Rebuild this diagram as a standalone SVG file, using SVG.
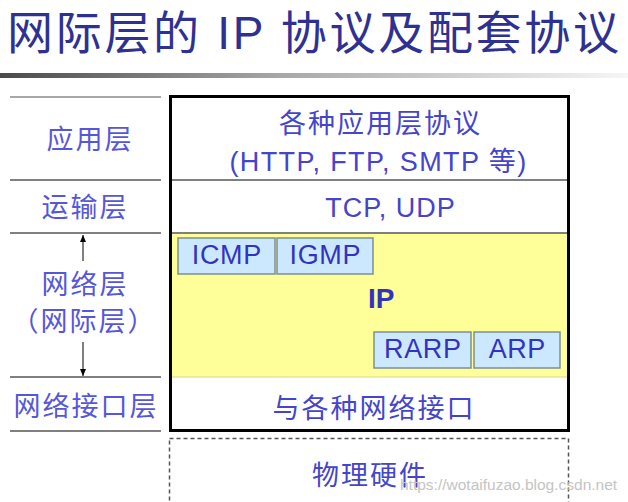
<svg xmlns="http://www.w3.org/2000/svg" width="628" height="502" viewBox="0 0 628 502">
<defs>
<linearGradient id="bar" x1="0" y1="0" x2="1" y2="0">
<stop offset="0" stop-color="#4a4a4a"/>
<stop offset="0.45" stop-color="#a8a8a8"/>
<stop offset="1" stop-color="#f6f6f6"/>
</linearGradient>
<marker id="ah" markerWidth="8" markerHeight="8" refX="7" refY="3" orient="auto" markerUnits="userSpaceOnUse">
<path d="M0,0 L7,3 L0,6 z" fill="#000"/>
</marker>
</defs>
<style>
.cjk{font-family:"Noto Sans CJK SC","Liberation Sans",sans-serif}
.lat{font-family:"Liberation Sans","Noto Sans CJK SC",sans-serif}
.lbl{fill:#5656da;font-size:27px;letter-spacing:2px;text-anchor:middle}
.main{fill:#4444cc;font-size:27px;text-anchor:middle}
.sep{stroke:#808080;stroke-width:2}
.proto rect{fill:#cce8ff;stroke:#7f8f8f;stroke-width:1.5}
.proto text{fill:#3333c0;font-size:27px;text-anchor:middle;letter-spacing:0.6px}
</style>
<rect width="628" height="502" fill="#fff"/>

<g id="title">
<text class="lat" x="7" y="49" font-size="46" fill="#2e3192" textLength="612" lengthAdjust="spacing">网际层的 IP 协议及配套协议</text>
<rect x="0" y="73" width="628" height="5" fill="url(#bar)"/>
</g>

<g id="left-column">
<line x1="10" y1="97" x2="161" y2="97" stroke="#a8a8a8" stroke-width="2"/>
<line class="sep" x1="10" y1="180" x2="161" y2="180"/>
<line class="sep" x1="10" y1="233" x2="161" y2="233"/>
<line class="sep" x1="10" y1="377" x2="161" y2="377"/>
<line class="sep" x1="10" y1="431" x2="161" y2="431"/>
</g>
<g id="label-app"><text class="cjk lbl" x="90" y="149">应用层</text></g>
<g id="label-transport"><text class="cjk lbl" x="85" y="217">运输层</text></g>
<g id="label-network">
<text class="cjk lbl" x="85" y="294">网络层</text>
<text class="cjk lbl" x="84" y="331">（网际层）</text>
</g>
<g id="label-link"><text class="cjk lbl" x="86" y="416">网络接口层</text></g>

<g id="connectors">
<line x1="83" y1="261" x2="83" y2="235" stroke="#000" stroke-width="1" marker-end="url(#ah)"/>
<line x1="83" y1="342" x2="83" y2="376" stroke="#000" stroke-width="1" marker-end="url(#ah)"/>
</g>

<g id="network-layer">
<rect x="171" y="233" width="397" height="144" fill="#ffff99" stroke="#d6d68c" stroke-width="1"/>
<text class="lat" x="368" y="308" font-size="28" font-weight="bold" fill="#3333c0">IP</text>
</g>

<g id="app-layer">
<text class="cjk main" x="380.5" y="133" letter-spacing="2">各种应用层协议</text>
<text class="lat main" x="378.5" y="171" letter-spacing="1.4">(HTTP, FTP, SMTP 等)</text>
</g>
<g id="transport-layer">
<text class="lat main" x="390.5" y="217" font-size="29" letter-spacing="1">TCP, UDP</text>
</g>
<g id="link-layer">
<text class="cjk main" x="374" y="418" letter-spacing="2" fill="#5252d6">与各种网络接口</text>
</g>

<g id="main-frame">
<line class="sep" x1="171" y1="180" x2="568" y2="180"/>
<line class="sep" x1="171" y1="233" x2="568" y2="233"/>
<rect x="170.5" y="96.5" width="398" height="334" fill="none" stroke="#000" stroke-width="3"/>
</g>

<g id="icmp" class="proto"><rect x="178" y="238" width="97" height="36"/><text class="lat" x="226.8" y="264">ICMP</text></g>
<g id="igmp" class="proto"><rect x="277" y="238" width="96" height="36"/><text class="lat" x="325.3" y="264">IGMP</text></g>
<g id="rarp" class="proto"><rect x="374" y="332" width="97" height="36"/><text class="lat" x="422.8" y="358">RARP</text></g>
<g id="arp" class="proto"><rect x="474" y="332" width="86" height="36"/><text class="lat" x="517.3" y="358">ARP</text></g>

<g id="hardware">
<rect x="169.5" y="438.5" width="399" height="80" fill="none" stroke="#555" stroke-width="1.5" stroke-dasharray="4 3"/>
<text class="cjk main" x="370" y="485" letter-spacing="2" fill="#5252d6">物理硬件</text>
</g>

<text class="lat" x="400" y="490" font-size="15.5" fill="#c4c4c4">https://wotaifuzao.blog.csdn.net</text>
</svg>
